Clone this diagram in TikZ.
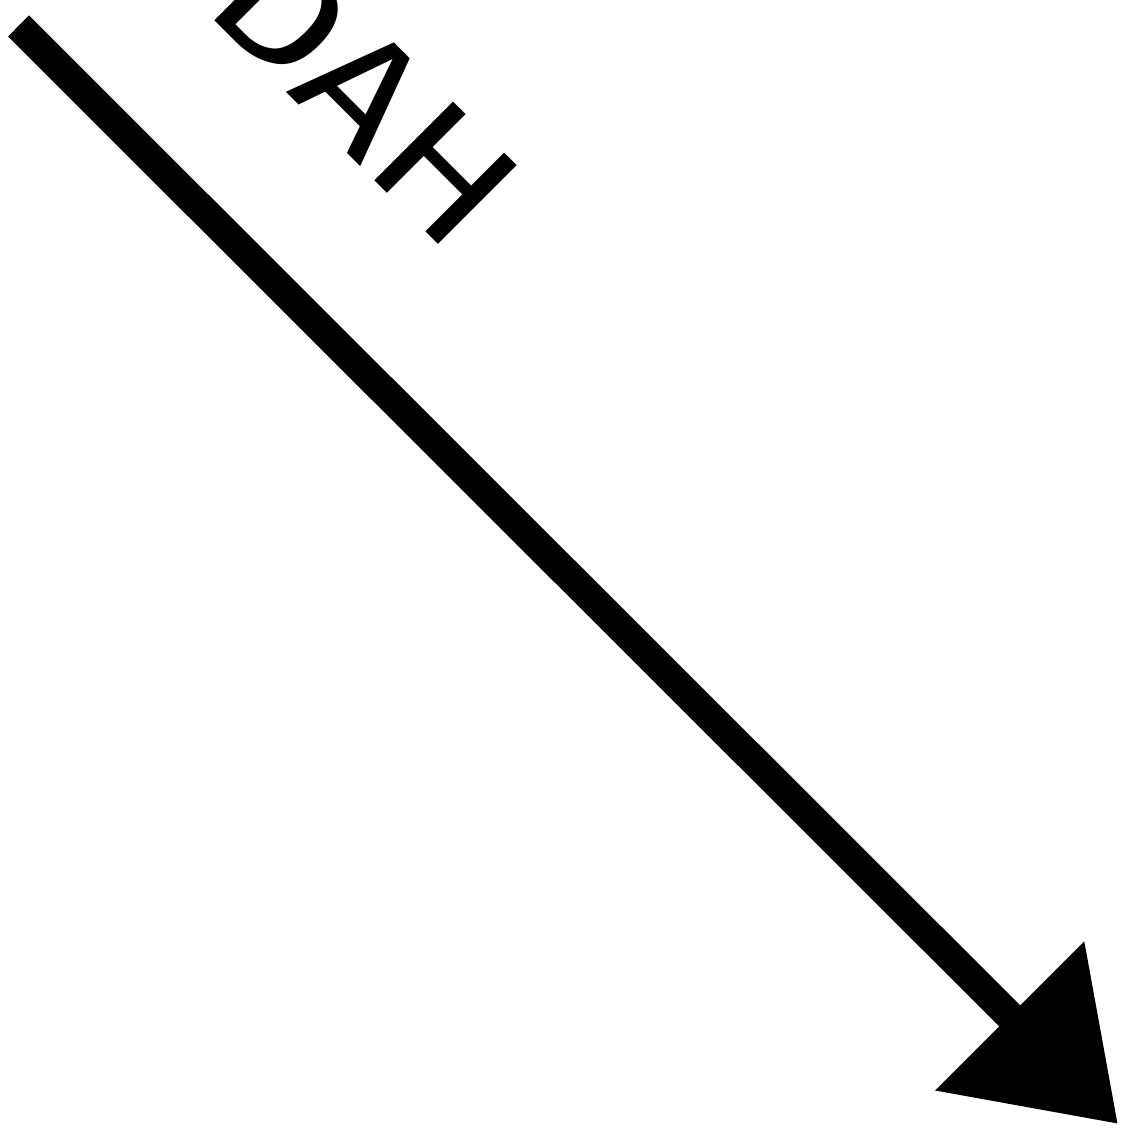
\documentclass[tikz,border=0pt]{standalone}
\usepackage{fontspec}
\setmainfont{Fira Sans}
\usetikzlibrary{arrows.meta}

\begin{document}
\begin{tikzpicture}[
    arr/.style={-{Triangle[length=1.53cm, width=2.03cm]}, line width=0.297cm},
    lbl/.style={font=\fontsize{46}{50}\selectfont, rotate=-45, xscale=1.16, inner sep=0pt}
]
\useasboundingbox (0,0) rectangle (11.30,11.48);
\coordinate (from) at (0.185,11.22);
\coordinate (to) at (11.18,0.24);
\node[lbl] (word) at (3.66,10.55) {DAH};
\draw[arr] (from) -- (to);
\end{tikzpicture}
\end{document}
